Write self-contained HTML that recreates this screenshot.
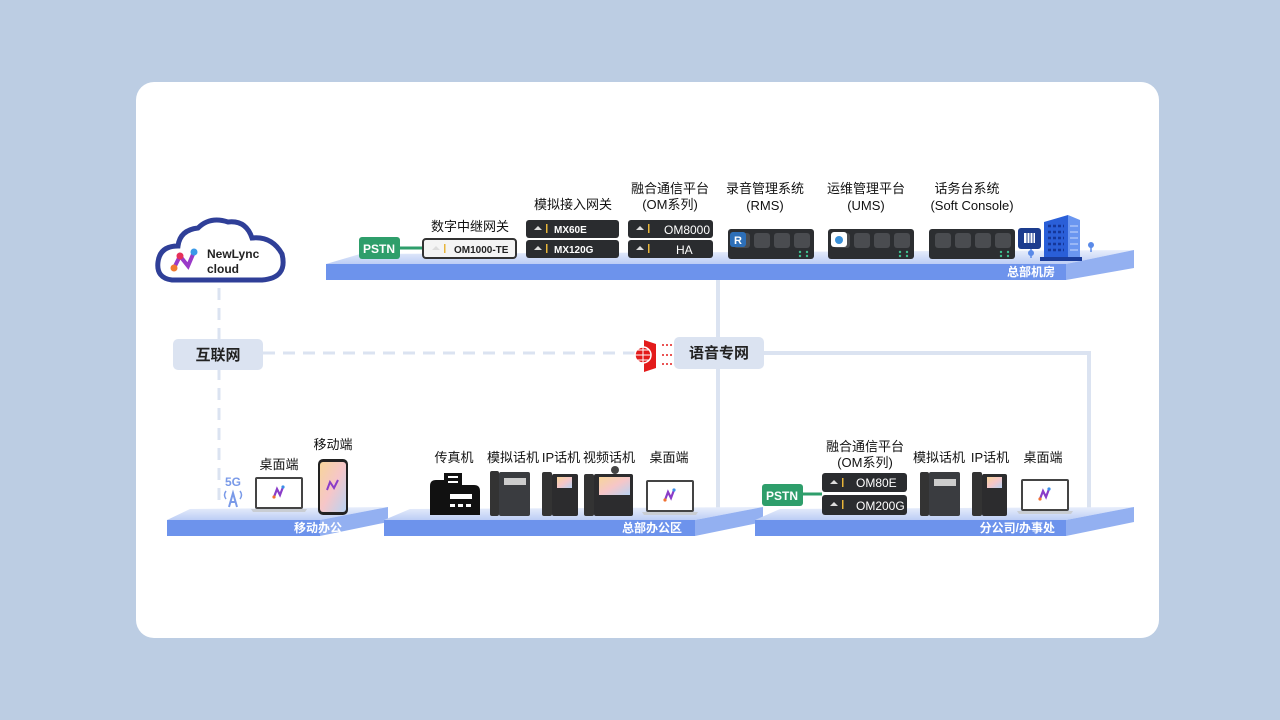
<!DOCTYPE html>
<html><head><meta charset="utf-8"><style>
body{margin:0;width:1280px;height:720px;background:#bccde3;overflow:hidden}
svg{display:block}
text{font-family:"Liberation Sans","Noto Sans CJK SC",sans-serif}
</style></head><body>
<svg width="1280" height="720" viewBox="0 0 1280 720" xmlns="http://www.w3.org/2000/svg">
<defs>
<linearGradient id="tf" x1="0" y1="0" x2="0" y2="1"><stop offset="0" stop-color="#e8eefb"/><stop offset="1" stop-color="#bccdf5"/></linearGradient>
<linearGradient id="scr" x1="0" y1="0" x2="1" y2="1"><stop offset="0" stop-color="#f7d59a"/><stop offset="0.5" stop-color="#f6c6c8"/><stop offset="1" stop-color="#b9d3f3"/></linearGradient>
<g id="dev"><rect width="86" height="30" rx="3" fill="#2c2e31"/><rect x="6" y="4" width="16" height="15" rx="3" fill="#4a4c50"/><rect x="26" y="4" width="16" height="15" rx="3" fill="#4a4c50"/><rect x="46" y="4" width="16" height="15" rx="3" fill="#4a4c50"/><rect x="66" y="4" width="16" height="15" rx="3" fill="#4a4c50"/><circle cx="72" cy="23" r="1.2" fill="#3fbf8f"/><circle cx="79" cy="23" r="1.2" fill="#3fbf8f"/><circle cx="72" cy="27" r="1.2" fill="#3fbf8f"/><circle cx="79" cy="27" r="1.2" fill="#3fbf8f"/></g>
<g id="lap"><rect x="4" y="0" width="48" height="32" rx="2" fill="#444"/><rect x="6" y="2" width="44" height="28" fill="#fff"/><path d="M0 32 H56 L54 35 H2 Z" fill="#c9cdd3"/><path d="M23 20 L26 12 L29 18 L32 10" stroke="#8a3cc8" stroke-width="2.2" fill="none"/><circle cx="23" cy="20" r="1.6" fill="#f07030"/><circle cx="32" cy="10" r="1.6" fill="#3a8ee8"/></g>
<g id="logo"><path d="M2 6 L6 2 L10 6 Z" fill="#ddd"/><rect x="14" y="0" width="1.5" height="9" fill="#e7b53a"/></g>
</defs>
<rect x="136" y="82" width="1023" height="556" rx="18" fill="#fff"/>

<line x1="718" y1="280" x2="718" y2="510" stroke="#dbe3f1" stroke-width="4"/>
<polyline points="763,353 1089,353 1089,510" fill="none" stroke="#dbe3f1" stroke-width="4"/>
<line x1="219" y1="288" x2="219" y2="500" stroke="#dbe3f1" stroke-width="3" stroke-dasharray="12,8"/>
<line x1="263" y1="353" x2="636" y2="353" stroke="#dbe3f1" stroke-width="3" stroke-dasharray="12,8"/>

<path d="M326 264 L360 254 L1134 250 L1066 264 Z" fill="url(#tf)"/>
<rect x="326" y="264" width="740" height="16" fill="#6d93ec"/>
<path d="M1066 264 L1134 250 L1134 268 L1066 280 Z" fill="#93b0f1"/>
<text x="1055" y="276" font-size="12" font-weight="bold" fill="#fff" text-anchor="end">总部机房</text>

<path d="M167 520 L190 509 L388 507 L320 520 Z" fill="url(#tf)"/><rect x="167" y="520" width="153" height="16" fill="#6d93ec"/><path d="M320 520 L388 507 L388 522 L320 536 Z" fill="#93b0f1"/>
<text x="342" y="532" font-size="12" font-weight="bold" fill="#fff" text-anchor="end">移动办公</text>
<path d="M384 520 L410 509 L763 507 L695 520 Z" fill="url(#tf)"/><rect x="384" y="520" width="311" height="16" fill="#6d93ec"/><path d="M695 520 L763 507 L763 522 L695 536 Z" fill="#93b0f1"/>
<text x="682" y="532" font-size="12" font-weight="bold" fill="#fff" text-anchor="end">总部办公区</text>
<path d="M755 520 L780 509 L1134 507 L1066 520 Z" fill="url(#tf)"/><rect x="755" y="520" width="311" height="16" fill="#6d93ec"/><path d="M1066 520 L1134 507 L1134 522 L1066 536 Z" fill="#93b0f1"/>
<text x="1055" y="532" font-size="12" font-weight="bold" fill="#fff" text-anchor="end">分公司/办事处</text>

<path d="M172 280 Q156 278 158 262 Q160 246 178 246 Q180 230 198 228 Q210 216 228 222 Q246 220 252 238 Q272 236 282 254 Q288 278 262 280 Z" fill="#fff" stroke="#2f3f98" stroke-width="5"/>
<path d="M174 268 L180 256 L188 266 L194 252" stroke="#9a3ac8" stroke-width="4" fill="none"/><circle cx="174" cy="268" r="3.5" fill="#f07a30"/><circle cx="180" cy="256" r="3.5" fill="#e6305a"/><circle cx="194" cy="252" r="3.5" fill="#3a9ae8"/>
<text x="207" y="258" font-size="12" font-weight="bold" fill="#222">NewLync</text>
<text x="207" y="273" font-size="12" font-weight="bold" fill="#222">cloud</text>

<rect x="173" y="339" width="90" height="31" rx="5" fill="#dbe3f1"/><text x="218" y="360" font-size="15" font-weight="bold" fill="#222" text-anchor="middle">互联网</text>
<rect x="674" y="337" width="90" height="32" rx="5" fill="#dbe3f1"/><text x="719" y="358" font-size="15" font-weight="bold" fill="#222" text-anchor="middle">语音专网</text>
<path d="M644 340 L656 344 L656 368 L644 372 Z" fill="#e31b1b"/><circle cx="643" cy="355" r="8" fill="#e31b1b" stroke="#fff" stroke-width="1.5"/><path d="M635 355 H651 M643 347 V363 M637 350 H649 M637 360 H649" stroke="#fff" stroke-width="1"/>
<path d="M662 345 H673 M662 355 H673 M662 364 H673" stroke="#e31b1b" stroke-width="1.5" stroke-dasharray="2,2"/>

<rect x="359" y="237" width="41" height="22" rx="3" fill="#2e9e6b"/><text x="379" y="253" font-size="12" font-weight="bold" fill="#fff" text-anchor="middle">PSTN</text>
<line x1="400" y1="248" x2="423" y2="248" stroke="#2e9e6b" stroke-width="3"/>
<rect x="423" y="239" width="93" height="19" rx="3" fill="#f4f4f4" stroke="#333" stroke-width="2"/>
<use href="#logo" x="430" y="244"/><text x="454" y="253" font-size="10" font-weight="bold" fill="#222">OM1000-TE</text>
<text x="470" y="231" font-size="13" fill="#111" text-anchor="middle">数字中继网关</text>

<text x="573" y="209" font-size="13" fill="#111" text-anchor="middle">模拟接入网关</text>
<rect x="526" y="220" width="93" height="18" rx="3" fill="#2a2c2f"/><use href="#logo" x="532" y="224"/><text x="554" y="233" font-size="10" font-weight="bold" fill="#fff">MX60E</text>
<rect x="526" y="240" width="93" height="18" rx="3" fill="#2a2c2f"/><use href="#logo" x="532" y="244"/><text x="554" y="253" font-size="10" font-weight="bold" fill="#fff">MX120G</text>

<text x="670" y="193" font-size="13" fill="#111" text-anchor="middle">融合通信平台</text>
<text x="670" y="209" font-size="13" fill="#111" text-anchor="middle">(OM系列)</text>
<rect x="628" y="220" width="85" height="18" rx="3" fill="#2a2c2f"/><use href="#logo" x="634" y="224"/><text x="664" y="234" font-size="12" fill="#fff">OM8000</text>
<rect x="628" y="240" width="85" height="18" rx="3" fill="#2a2c2f"/><use href="#logo" x="634" y="244"/><text x="676" y="254" font-size="12" fill="#fff">HA</text>

<text x="765" y="193" font-size="13" fill="#111" text-anchor="middle">录音管理系统</text>
<text x="765" y="210" font-size="13" fill="#111" text-anchor="middle">(RMS)</text>
<use href="#dev" x="728" y="229"/><rect x="730" y="232" width="16" height="15" rx="3" fill="#2d6fb8"/><text x="738" y="244" font-size="11" font-weight="bold" fill="#fff" text-anchor="middle">R</text>
<text x="866" y="193" font-size="13" fill="#111" text-anchor="middle">运维管理平台</text>
<text x="866" y="210" font-size="13" fill="#111" text-anchor="middle">(UMS)</text>
<use href="#dev" x="828" y="229"/><rect x="831" y="232" width="16" height="15" rx="3" fill="#fff"/><circle cx="839" cy="240" r="4" fill="#3a90d8"/>
<text x="967" y="193" font-size="13" fill="#111" text-anchor="middle">话务台系统</text>
<text x="972" y="210" font-size="13" fill="#111" text-anchor="middle">(Soft Console)</text>
<use href="#dev" x="929" y="229"/>
<rect x="1018" y="228" width="23" height="21" rx="3" fill="#1c3c8e"/><rect x="1024" y="233" width="11" height="10" fill="#fff"/><path d="M1027 233 V243 M1030 233 V243 M1033 233 V243" stroke="#1c3c8e" stroke-width="1"/>
<line x1="1031" y1="249" x2="1031" y2="258" stroke="#5a8ae8" stroke-width="1.5"/><circle cx="1031" cy="253" r="3" fill="#5a8ae8"/>
<path d="M1044 222 L1068 215 L1068 257 L1044 257 Z" fill="#2a5fd8"/><path d="M1068 215 L1080 220 L1080 257 L1068 257 Z" fill="#6a96f0"/>
<path d="M1048 226 H1064 M1048 232 H1064 M1048 238 H1064 M1048 244 H1064 M1048 250 H1064" stroke="#15379a" stroke-width="2.5" stroke-dasharray="3,2"/>
<path d="M1070 226 H1078 M1070 232 H1078 M1070 238 H1078 M1070 244 H1078 M1070 250 H1078" stroke="#c8d8fb" stroke-width="1"/>
<path d="M1040 257 H1082 V261 H1040 Z" fill="#1a3c9a"/>
<line x1="1091" y1="244" x2="1091" y2="252" stroke="#5a8ae8" stroke-width="1.5"/><circle cx="1091" cy="245" r="3" fill="#5a8ae8"/>

<text x="233" y="486" font-size="12" font-weight="bold" fill="#7a9ae8" text-anchor="middle">5G</text>
<path d="M229 507 L233 493 L237 507 M230 502 H236" stroke="#7a9ae8" stroke-width="2" fill="none"/><path d="M226 491 Q223 495 226 499 M240 491 Q243 495 240 499" stroke="#7a9ae8" stroke-width="1.5" fill="none"/>
<text x="279" y="469" font-size="13" fill="#111" text-anchor="middle">桌面端</text>
<use href="#lap" x="251" y="477"/>
<text x="333" y="449" font-size="13" fill="#111" text-anchor="middle">移动端</text>
<rect x="318" y="459" width="30" height="56" rx="5" fill="#222"/><rect x="320" y="462" width="26" height="50" rx="3" fill="url(#scr)"/>
<path d="M327 490 L330 482 L334 488 L338 480" stroke="#8a3cc8" stroke-width="2" fill="none"/>

<text x="454" y="462" font-size="13" fill="#111" text-anchor="middle">传真机</text>
<text x="513" y="462" font-size="13" fill="#111" text-anchor="middle">模拟话机</text>
<text x="561" y="462" font-size="13" fill="#111" text-anchor="middle">IP话机</text>
<text x="609" y="462" font-size="13" fill="#111" text-anchor="middle">视频话机</text>
<text x="669" y="462" font-size="13" fill="#111" text-anchor="middle">桌面端</text>
<path d="M430 515 V486 Q430 480 436 480 H444 V473 H462 V485 H474 Q480 485 480 491 V515 Z" fill="#111"/><rect x="448" y="476" width="10" height="2" fill="#fff"/><rect x="448" y="481" width="10" height="2" fill="#fff"/><rect x="450" y="494" width="22" height="5" fill="#fff"/><rect x="450" y="504" width="5" height="3" fill="#fff"/><rect x="458" y="504" width="5" height="3" fill="#fff"/><rect x="466" y="504" width="5" height="3" fill="#fff"/>
<rect x="490" y="471" width="9" height="45" rx="2" fill="#333"/><rect x="499" y="472" width="31" height="44" rx="2" fill="#3a3c40"/><rect x="504" y="478" width="22" height="7" fill="#ccc"/>
<rect x="542" y="472" width="10" height="44" rx="2" fill="#333"/><rect x="552" y="474" width="26" height="42" rx="2" fill="#2c2c2e"/><rect x="557" y="477" width="15" height="11" fill="url(#scr)"/>
<rect x="584" y="474" width="10" height="42" rx="2" fill="#333"/><rect x="594" y="474" width="39" height="42" rx="2" fill="#2c2c2e"/><rect x="599" y="477" width="31" height="18" fill="url(#scr)"/><circle cx="615" cy="470" r="4" fill="#444"/>
<use href="#lap" x="642" y="480"/>

<text x="865" y="451" font-size="13" fill="#111" text-anchor="middle">融合通信平台</text>
<text x="865" y="467" font-size="13" fill="#111" text-anchor="middle">(OM系列)</text>
<rect x="762" y="484" width="41" height="22" rx="3" fill="#2e9e6b"/><text x="782" y="500" font-size="12" font-weight="bold" fill="#fff" text-anchor="middle">PSTN</text>
<line x1="803" y1="494" x2="822" y2="494" stroke="#2e9e6b" stroke-width="3"/>
<rect x="822" y="473" width="85" height="19" rx="3" fill="#2a2c2f"/><use href="#logo" x="828" y="478"/><text x="856" y="487" font-size="12" fill="#fff">OM80E</text>
<rect x="822" y="495" width="85" height="20" rx="3" fill="#2a2c2f"/><use href="#logo" x="828" y="500"/><text x="856" y="510" font-size="12" fill="#fff">OM200G</text>
<text x="939" y="462" font-size="13" fill="#111" text-anchor="middle">模拟话机</text>
<text x="990" y="462" font-size="13" fill="#111" text-anchor="middle">IP话机</text>
<text x="1043" y="462" font-size="13" fill="#111" text-anchor="middle">桌面端</text>
<rect x="920" y="472" width="9" height="44" rx="2" fill="#333"/><rect x="929" y="472" width="31" height="44" rx="2" fill="#3a3c40"/><rect x="934" y="479" width="22" height="7" fill="#ccc"/>
<rect x="972" y="472" width="10" height="44" rx="2" fill="#333"/><rect x="982" y="474" width="25" height="42" rx="2" fill="#2c2c2e"/><rect x="987" y="477" width="15" height="11" fill="url(#scr)"/>
<use href="#lap" x="1017" y="479"/>
</svg>
</body></html>
